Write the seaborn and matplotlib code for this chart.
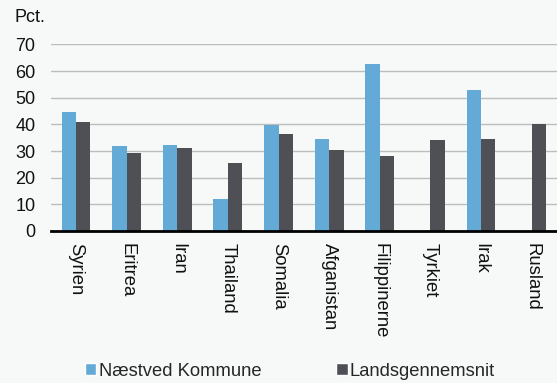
import numpy as np
import pandas as pd
import matplotlib
matplotlib.use("Agg")
import matplotlib.pyplot as plt
from matplotlib.patches import Patch
import seaborn as sns

lande = ["Syrien", "Eritrea", "Iran", "Thailand", "Somalia", "Afganistan",
         "Filippinerne", "Tyrkiet", "Irak", "Rusland"]
naestved = [44.8, 31.7, 32.3, 12.0, 39.9, 34.4, 62.8, np.nan, 52.9, np.nan]
landsgennemsnit = [40.8, 29.2, 31.2, 25.6, 36.3, 30.4, 28.2, 34.1, 34.7, 40.1]
serier = ["Næstved Kommune", "Landsgennemsnit"]
yticks = [0, 10, 20, 30, 40, 50, 60, 70]

farver = ["#63aad6", "#4f5055"]
bg = "#f7f9f9"

df = pd.DataFrame({
    "Land": lande * 2,
    "Serie": [serier[0]] * len(lande) + [serier[1]] * len(lande),
    "Pct": naestved + landsgennemsnit,
})

sns.set_theme(style="white")
plt.rcParams["font.family"] = ["Liberation Sans", "DejaVu Sans"]

fig = plt.figure(figsize=(5.57, 3.83), dpi=100, facecolor=bg)
ax = fig.add_axes([0.091, 0.397, 0.909, 0.489])
ax.set_facecolor(bg)

sns.barplot(data=df, x="Land", y="Pct", hue="Serie", order=lande,
            hue_order=serier, palette=farver, width=0.57, saturation=1,
            legend=False, ax=ax, linewidth=0)

ax.set_xlim(-0.5, len(lande) - 0.5)
ax.set_ylim(0, 70.3)
ax.set_yticks(yticks)
ax.set_yticklabels([str(v) for v in yticks], fontsize=13, color="#111111")
ax.tick_params(axis="y", length=0, pad=11)
ax.yaxis.grid(True, color="#bdbdbd", linewidth=1.0)
ax.set_axisbelow(True)

ax.set_xticks(range(len(lande)))
ax.set_xticklabels(lande, rotation=-90, fontsize=13.3, color="#111111",
                   ha="center", va="top")
ax.tick_params(axis="x", which="major", length=0, pad=9)
ax.set_xticks(np.arange(-0.5, len(lande), 1.0), minor=True)
ax.tick_params(axis="x", which="minor", length=4, width=1.5,
               color="black", direction="out")

for side in ["left", "right", "top"]:
    ax.spines[side].set_visible(False)
ax.spines["bottom"].set_color("black")
ax.spines["bottom"].set_linewidth(2)
ax.set_xlabel("")
ax.set_ylabel("")

fig.text(14 / 557, 1 - 18 / 383, "Pct.", fontsize=13, color="#111111",
         ha="left", va="center")

handles = [Patch(facecolor=farver[0]), Patch(facecolor=farver[1])]
fig.legend(handles, serier, loc="center", ncol=2,
           bbox_to_anchor=(290 / 557, 1 - 371 / 383), frameon=False,
           fontsize=13.2, handlelength=0.62, handleheight=0.62,
           handletextpad=0.12, columnspacing=4.1, borderpad=0)

fig.savefig("out.png", dpi=100, facecolor=bg)
